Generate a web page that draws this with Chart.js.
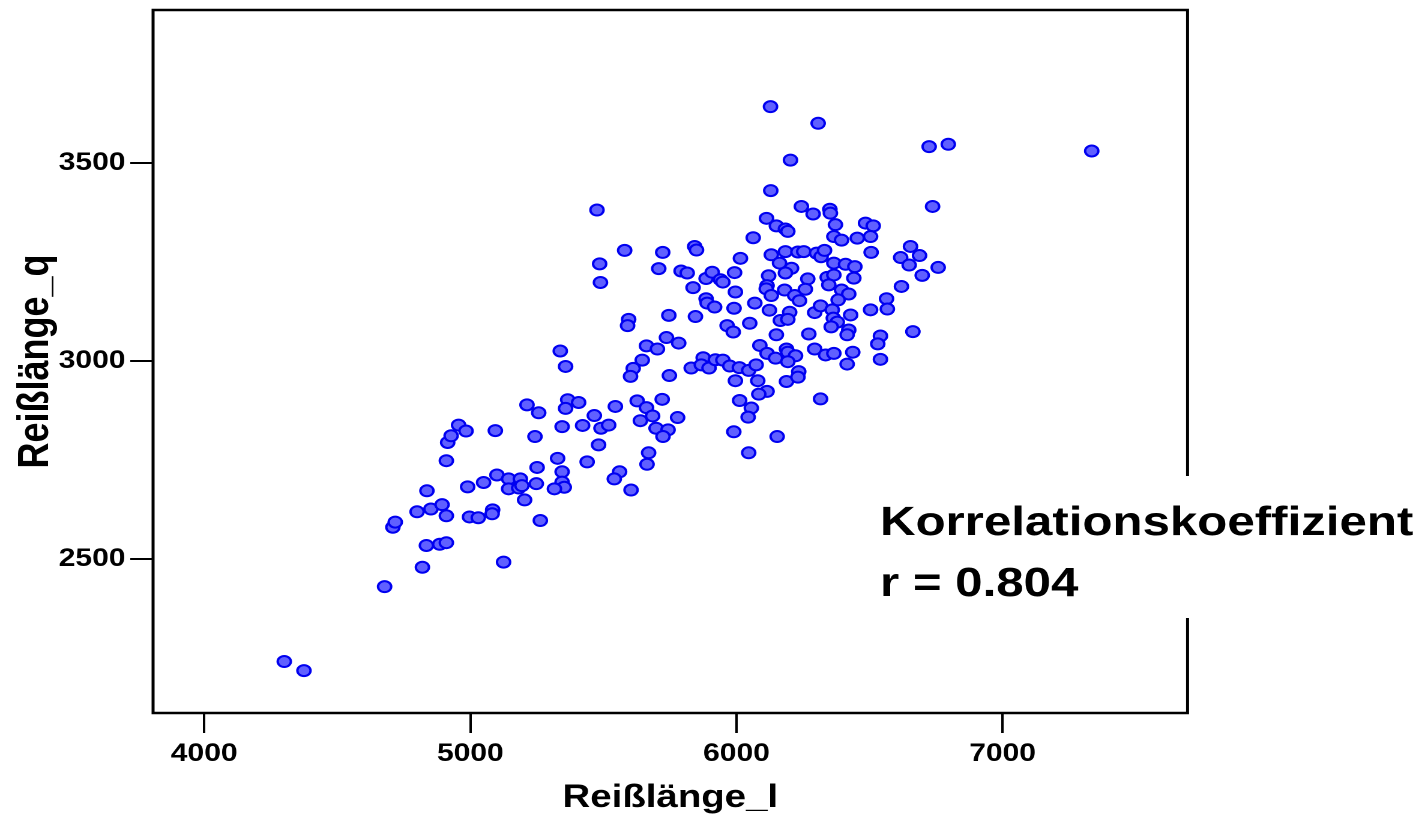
<!DOCTYPE html>
<html lang="de">
<head>
<meta charset="utf-8">
<title>Reißlänge_l / Reißlänge_q</title>
<script src="https://cdn.jsdelivr.net/npm/chart.js@4.4.1/dist/chart.umd.min.js"></script>
<style>
  html, body { margin: 0; padding: 0; background: #fff; overflow: hidden; }
  /* the original picture is stretched sideways by about 1.2 */
  #wrap { position: absolute; left: 0; top: 0; width: 1181.67px; height: 815px;
          transform: scaleX(1.2); transform-origin: 0 0; }
</style>
</head>
<body>
<div id="wrap"><canvas id="chart"></canvas></div>
<script>
// Reißlänge_l (x) and Reißlänge_q (y)
const reisslaengeL = [
  4301, 4375, 4678, 4820, 4835, 4885, 4910, 4709, 4718, 4800, 4852, 4894, 4910, 4997, 5030, 4837,
  4990, 4910, 4915, 4928, 4956, 4984, 5338, 5358, 5612, 5602, 5213, 5257, 5366, 5358, 5407, 5545,
  5094, 5243, 5345, 5422, 5466, 5491, 5520, 5482, 5328, 5251, 5439, 5345, 5561, 5541, 5604, 5050,
  5100, 5144, 5188, 5144, 5182, 5194, 5248, 5345, 5353, 5316, 5204, 5084, 5082, 5263, 5125, 5476,
  5580, 5486, 5489, 5723, 5708, 5843, 5850, 5792, 5815, 5837, 5886, 5909, 5940, 5949, 5993, 6015,
  5996, 5886, 5890, 5918, 5991, 5846, 5746, 5595, 5591, 5965, 5988, 5737, 5783, 5662, 5703, 5646,
  5748, 5830, 5875, 5868, 5897, 5921, 5949, 5975, 6011, 5996, 6012, 5627, 5662, 5721, 5639, 5685,
  5698, 5743, 5724, 5779, 5670, 5990, 6128, 6307, 6203, 6129, 6244, 6288, 6351, 6353, 6372, 6113,
  6150, 6184, 6193, 6063, 6366, 6395, 6454, 6131, 6184, 6231, 6253, 6301, 6318, 6331, 6162, 6207,
  6184, 6366, 6410, 6445, 6121, 6268, 6341, 6366, 6347, 6441, 6115, 6112, 6131, 6181, 6219, 6237,
  6259, 6395, 6422, 6382, 6069, 6124, 6200, 6165, 6193, 6294, 6316, 6360, 6429, 6364, 6379, 6050,
  6356, 6422, 6150, 6272, 6416, 6088, 6115, 6147, 6188, 6193, 6222, 6193, 6294, 6335, 6366, 6437,
  6416, 6046, 6074, 6080, 6188, 6234, 6231, 6115, 6084, 6056, 6044, 6316, 6153, 6046, 6724, 6796,
  6737, 6485, 6514, 6504, 6506, 6654, 6688, 6617, 6649, 6758, 6698, 6620, 6564, 6567, 6504, 6541,
  6531, 6663, 6541, 7335, 5664
];
const reisslaengeQ = [
  2241, 2218, 2430, 2479, 2534, 2537, 2541, 2580, 2593, 2619, 2626, 2637, 2609, 2606, 2604, 2672,
  2682, 2748, 2794, 2811, 2838, 2823, 3025, 2986, 2981, 2961, 2889, 2869, 2902, 2880, 2895, 2885,
  2824, 2809, 2834, 2837, 2862, 2830, 2838, 2788, 2754, 2731, 2745, 2720, 2720, 2702, 2674, 2693,
  2712, 2702, 2702, 2677, 2679, 2685, 2690, 2694, 2681, 2677, 2649, 2624, 2614, 2597, 2492, 3381,
  3279, 3245, 3198, 3274, 3233, 3289, 3280, 3227, 3222, 3185, 3208, 3224, 3205, 3199, 3223, 3259,
  3174, 3157, 3146, 3136, 3133, 3112, 3115, 3105, 3089, 3089, 3073, 3059, 3045, 3038, 3030, 3002,
  2963, 2982, 3008, 2990, 2982, 3003, 3002, 2987, 2983, 2950, 2900, 2899, 2882, 2903, 2849, 2861,
  2830, 2826, 2809, 2857, 2768, 2821, 3642, 3600, 3507, 3430, 3390, 3371, 3383, 3373, 3344, 3360,
  3341, 3333, 3327, 3311, 3314, 3305, 3310, 3268, 3276, 3275, 3276, 3272, 3263, 3279, 3247, 3234,
  3222, 3247, 3244, 3238, 3215, 3207, 3211, 3217, 3192, 3209, 3190, 3182, 3165, 3179, 3165, 3152,
  3181, 3179, 3169, 3154, 3146, 3128, 3123, 3102, 3105, 3122, 3139, 3129, 3116, 3108, 3098, 3095,
  3086, 3078, 3066, 3068, 3066, 3039, 3019, 3007, 3030, 3022, 3013, 2998, 3030, 3015, 3019, 3022,
  2992, 2976, 2990, 2950, 2948, 2973, 2959, 2923, 2916, 2881, 2858, 2904, 2809, 2768, 3541, 3547,
  3390, 3348, 3341, 3314, 3274, 3289, 3266, 3261, 3242, 3236, 3216, 3188, 3157, 3131, 3129, 3063,
  3043, 3074, 3004, 3530, 2739
];

const xTicks = [4000, 5000, 6000, 7000];
const yTicks = [2500, 3000, 3500];

const noteLines = ['Korrelationskoeffizient', 'r = 0.804'];

const FONT = "'Liberation Sans', Arial, Helvetica, sans-serif";

const points = reisslaengeL.map((x, i) => ({ x: x, y: reisslaengeQ[i] }));

// full box round the plot area
const framePlugin = {
  id: 'frame',
  beforeDatasetsDraw(chart) {
    const { ctx, chartArea: a } = chart;
    ctx.save();
    ctx.strokeStyle = '#000';
    ctx.lineWidth = 2.5;
    ctx.strokeRect(a.left, a.top, a.right - a.left, a.bottom - a.top);
    ctx.restore();
  }
};

// white text box with the correlation, it covers part of the right edge
const notePlugin = {
  id: 'note',
  afterDatasetsDraw(chart) {
    const ctx = chart.ctx;
    ctx.save();
    ctx.fillStyle = '#fff';
    ctx.fillRect(725, 476, chart.width - 725, 142);
    ctx.fillStyle = '#000';
    ctx.font = 'bold 41px ' + FONT;
    ctx.textBaseline = 'alphabetic';
    ctx.textAlign = 'left';
    ctx.fillText(noteLines[0], 733, 535);
    ctx.fillText(noteLines[1], 733, 596);
    ctx.restore();
  }
};

new Chart(document.getElementById('chart'), {
  type: 'scatter',
  data: {
    datasets: [{
      data: points,
      pointRadius: 5.5,
      pointHoverRadius: 5.5,
      borderWidth: 2,
      backgroundColor: '#6060ff',
      borderColor: '#0000f0'
    }]
  },
  options: {
    responsive: true,
    maintainAspectRatio: false,
    animation: false,
    devicePixelRatio: 2,
    events: [],
    layout: { padding: { top: 10, right: 192.5, bottom: 0, left: 0 } },
    plugins: { legend: { display: false }, tooltip: { enabled: false } },
    scales: {
      x: {
        type: 'linear',
        position: 'bottom',
        min: 3808,
        max: 7695,
        afterBuildTicks: (s) => { s.ticks = xTicks.map(v => ({ value: v })); },
        afterFit: (s) => { s.height = 102; s.paddingLeft = 0; s.paddingRight = 0; },
        border: { display: false },
        grid: { drawOnChartArea: false, drawTicks: true, tickLength: 20, color: '#000', lineWidth: 2 },
        ticks: {
          color: '#000', padding: 6, autoSkip: false, maxRotation: 0,
          callback: (v) => String(v),
          font: { family: FONT, size: 25, weight: 'bold' }
        },
        title: {
          display: true, text: 'Reißlänge_l', color: '#000',
          padding: { top: 0, bottom: 0 },
          font: { family: FONT, size: 32, weight: 'bold', lineHeight: 1.05 }
        }
      },
      y: {
        type: 'linear',
        position: 'left',
        min: 2111,
        max: 3886,
        afterBuildTicks: (s) => { s.ticks = yTicks.map(v => ({ value: v })); },
        afterFit: (s) => { s.width = 127.5; s.paddingTop = 0; s.paddingBottom = 0; },
        border: { display: false },
        grid: { drawOnChartArea: false, drawTicks: true, tickLength: 19, color: '#000', lineWidth: 2 },
        ticks: {
          color: '#000', padding: 4, autoSkip: false,
          callback: (v) => String(v),
          font: { family: FONT, size: 25, weight: 'bold' }
        },
        title: {
          display: true, text: 'Reißlänge_q', color: '#000',
          padding: { top: 8.5, bottom: 0 },
          font: { family: FONT, size: 36, weight: 'bold', lineHeight: 1.2 }
        }
      }
    }
  },
  plugins: [framePlugin, notePlugin]
});
</script>
</body>
</html>
